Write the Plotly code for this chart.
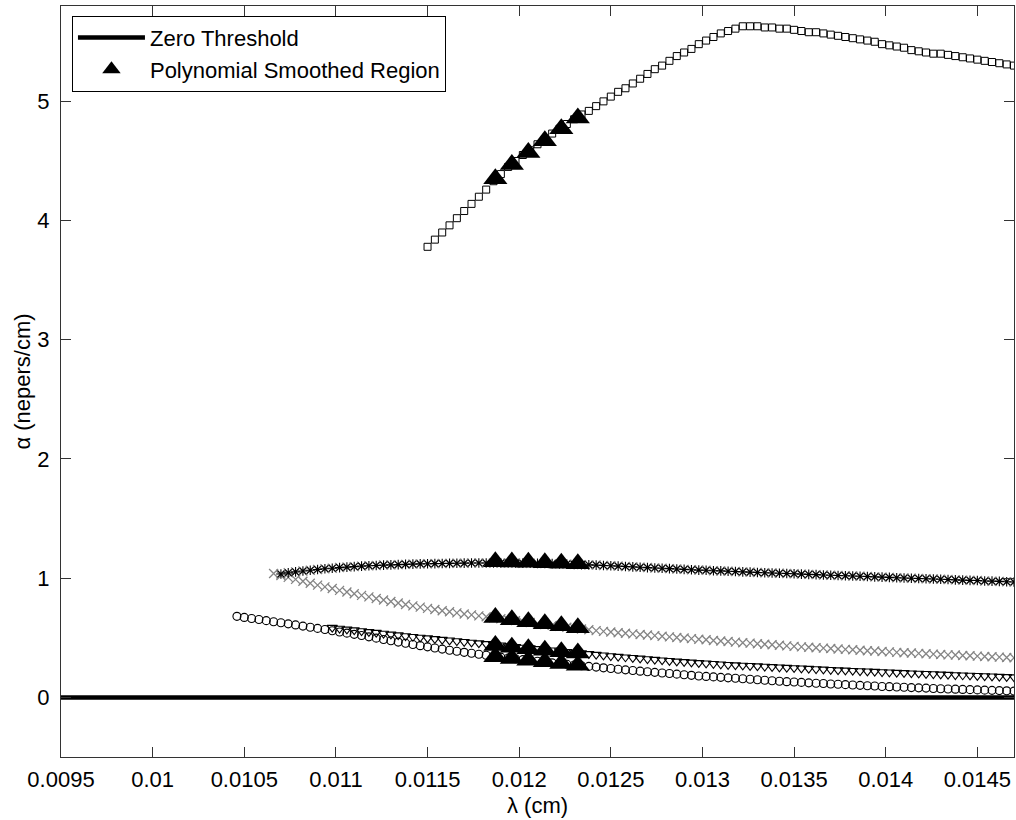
import plotly.graph_objects as go

# wavelength sample grid (cm)
lam = [0.01046, 0.01050, 0.01054, 0.01058, 0.01062, 0.01066, 0.01070, 0.01074, 0.01078, 0.01082,
       0.01086, 0.01090, 0.01094, 0.01098, 0.01102, 0.01106, 0.01110, 0.01114, 0.01118, 0.01122,
       0.01126, 0.01130, 0.01134, 0.01138, 0.01142, 0.01146, 0.01150, 0.01154, 0.01158, 0.01162,
       0.01166, 0.01170, 0.01174, 0.01178, 0.01182, 0.01186, 0.01190, 0.01194, 0.01198, 0.01202,
       0.01206, 0.01210, 0.01214, 0.01218, 0.01222, 0.01226, 0.01230, 0.01234, 0.01238, 0.01242,
       0.01246, 0.01250, 0.01254, 0.01258, 0.01262, 0.01266, 0.01270, 0.01274, 0.01278, 0.01282,
       0.01286, 0.01290, 0.01294, 0.01298, 0.01302, 0.01306, 0.01310, 0.01314, 0.01318, 0.01322,
       0.01326, 0.01330, 0.01334, 0.01338, 0.01342, 0.01346, 0.01350, 0.01354, 0.01358, 0.01362,
       0.01366, 0.01370, 0.01374, 0.01378, 0.01382, 0.01386, 0.01390, 0.01394, 0.01398, 0.01402,
       0.01406, 0.01410, 0.01414, 0.01418, 0.01422, 0.01426, 0.01430, 0.01434, 0.01438, 0.01442,
       0.01446, 0.01450, 0.01454, 0.01458, 0.01462, 0.01466, 0.01470]

# squares: starts at lam[26]
alpha_square = [3.78, 3.84, 3.90, 3.96, 4.02, 4.08, 4.14, 4.20, 4.26, 4.33,
                4.39, 4.45, 4.50, 4.55, 4.59, 4.64, 4.68, 4.73, 4.77, 4.81,
                4.85, 4.89, 4.92, 4.96, 5.00, 5.04, 5.08, 5.11, 5.15, 5.19,
                5.23, 5.27, 5.30, 5.34, 5.38, 5.41, 5.44, 5.48, 5.51, 5.54,
                5.57, 5.59, 5.61, 5.63, 5.63, 5.63, 5.62, 5.62, 5.61, 5.61,
                5.60, 5.59, 5.58, 5.58, 5.57, 5.56, 5.55, 5.54, 5.53, 5.52,
                5.51, 5.50, 5.48, 5.47, 5.46, 5.45, 5.43, 5.42, 5.41, 5.40,
                5.40, 5.39, 5.38, 5.37, 5.36, 5.35, 5.34, 5.33, 5.32, 5.31,
                5.30]

# upper branch (asterisks): starts at lam[6]
alpha_upper = [1.035, 1.045, 1.053, 1.060, 1.067, 1.073, 1.079, 1.084, 1.089, 1.093,
               1.097, 1.101, 1.104, 1.107, 1.110, 1.112, 1.114, 1.116, 1.118, 1.120,
               1.121, 1.122, 1.123, 1.124, 1.125, 1.126, 1.127, 1.127, 1.128, 1.128,
               1.128, 1.127, 1.127, 1.126, 1.125, 1.124, 1.123, 1.122, 1.120, 1.118,
               1.116, 1.114, 1.112, 1.110, 1.107, 1.104, 1.101, 1.098, 1.095, 1.092,
               1.089, 1.086, 1.083, 1.080, 1.077, 1.074, 1.071, 1.068, 1.066, 1.063,
               1.061, 1.058, 1.056, 1.053, 1.051, 1.048, 1.046, 1.044, 1.041, 1.039,
               1.037, 1.034, 1.032, 1.030, 1.027, 1.025, 1.023, 1.021, 1.018, 1.016,
               1.014, 1.011, 1.009, 1.007, 1.004, 1.002, 1.000, 0.998, 0.995, 0.993,
               0.991, 0.989, 0.986, 0.984, 0.982, 0.980, 0.977, 0.975, 0.973, 0.970,
               0.968]

# lower branch of gray crosses: starts at lam[5]
alpha_cross = [1.040, 1.023, 1.007, 0.990, 0.974, 0.958, 0.942, 0.927, 0.913, 0.898,
               0.884, 0.870, 0.856, 0.843, 0.830, 0.817, 0.804, 0.792, 0.780, 0.768,
               0.757, 0.747, 0.737, 0.727, 0.718, 0.709, 0.700, 0.692, 0.684, 0.676,
               0.668, 0.660, 0.652, 0.644, 0.636, 0.628, 0.620, 0.612, 0.604, 0.596,
               0.588, 0.581, 0.574, 0.567, 0.560, 0.554, 0.548, 0.543, 0.538, 0.533,
               0.528, 0.523, 0.518, 0.513, 0.508, 0.503, 0.498, 0.493, 0.488, 0.483,
               0.478, 0.473, 0.469, 0.464, 0.459, 0.455, 0.450, 0.446, 0.441, 0.437,
               0.432, 0.428, 0.424, 0.420, 0.417, 0.413, 0.410, 0.406, 0.403, 0.399,
               0.396, 0.392, 0.389, 0.385, 0.382, 0.378, 0.375, 0.372, 0.369, 0.366,
               0.363, 0.360, 0.357, 0.355, 0.352, 0.349, 0.346, 0.343, 0.341, 0.338,
               0.335, 0.332]

# downward triangles: starts at lam[13]
alpha_tridown = [0.585, 0.578, 0.571, 0.564, 0.557, 0.550, 0.543, 0.536, 0.529, 0.522,
                 0.515, 0.509, 0.503, 0.497, 0.491, 0.485, 0.479, 0.473, 0.467, 0.461,
                 0.455, 0.449, 0.443, 0.437, 0.431, 0.425, 0.419, 0.413, 0.407, 0.401,
                 0.395, 0.389, 0.383, 0.377, 0.371, 0.365, 0.359, 0.353, 0.347, 0.342,
                 0.337, 0.332, 0.327, 0.322, 0.317, 0.312, 0.307, 0.302, 0.298, 0.294,
                 0.290, 0.286, 0.282, 0.278, 0.274, 0.271, 0.268, 0.265, 0.262, 0.259,
                 0.256, 0.253, 0.250, 0.247, 0.244, 0.241, 0.238, 0.235, 0.232, 0.229,
                 0.227, 0.224, 0.221, 0.219, 0.216, 0.213, 0.211, 0.208, 0.206, 0.203,
                 0.201, 0.198, 0.196, 0.193, 0.191, 0.188, 0.186, 0.184, 0.181, 0.179,
                 0.177, 0.174, 0.172, 0.170]

# circles: starts at lam[0]
alpha_circle = [0.680, 0.671, 0.662, 0.653, 0.644, 0.635, 0.626, 0.617, 0.608, 0.598,
                0.589, 0.579, 0.569, 0.559, 0.549, 0.539, 0.529, 0.519, 0.508, 0.497,
                0.486, 0.475, 0.464, 0.454, 0.444, 0.434, 0.424, 0.414, 0.405, 0.396,
                0.387, 0.378, 0.370, 0.362, 0.354, 0.346, 0.338, 0.331, 0.324, 0.317,
                0.310, 0.303, 0.296, 0.290, 0.284, 0.278, 0.272, 0.266, 0.260, 0.254,
                0.248, 0.242, 0.236, 0.231, 0.226, 0.220, 0.215, 0.210, 0.205, 0.200,
                0.195, 0.190, 0.185, 0.180, 0.176, 0.172, 0.168, 0.164, 0.160, 0.156,
                0.152, 0.148, 0.144, 0.140, 0.136, 0.132, 0.129, 0.126, 0.122, 0.119,
                0.116, 0.113, 0.110, 0.107, 0.104, 0.101, 0.098, 0.095, 0.092, 0.090,
                0.087, 0.085, 0.082, 0.080, 0.078, 0.075, 0.073, 0.071, 0.069, 0.067,
                0.065, 0.063, 0.061, 0.059, 0.057, 0.055, 0.053]

# polynomial smoothed region
smooth_lam = [0.01187, 0.01196, 0.01205, 0.01214, 0.01223, 0.01232]
smooth_square = [4.35, 4.47, 4.57, 4.67, 4.77, 4.86]
smooth_upper = [1.138, 1.136, 1.133, 1.130, 1.126, 1.122]
smooth_cross = [0.670, 0.652, 0.635, 0.617, 0.600, 0.584]
smooth_tridown = [0.435, 0.421, 0.408, 0.395, 0.383, 0.372]
smooth_circle = [0.340, 0.326, 0.312, 0.298, 0.284, 0.270]

zero_lam = [0.0095, 0.0147]
zero_alpha = [0, 0]

x_ticks = [0.0095, 0.01, 0.0105, 0.011, 0.0115, 0.012, 0.0125, 0.013, 0.0135, 0.014, 0.0145]
x_ticktext = ["0.0095", "0.01", "0.0105", "0.011", "0.0115", "0.012", "0.0125",
              "0.013", "0.0135", "0.014", "0.0145"]
y_ticks = [0, 1, 2, 3, 4, 5]

FONT = "Liberation Sans, Arial, sans-serif"
GRAY = "#858585"

fig = go.Figure()

fig.add_trace(go.Scatter(x=zero_lam, y=zero_alpha, mode="lines", name="Zero Threshold",
                         line=dict(color="black", width=4.5)))

fig.add_trace(go.Scatter(x=lam[5:], y=alpha_cross, mode="markers", showlegend=False,
                         marker=dict(symbol="x-thin-open", size=9, color=GRAY,
                                     line=dict(color=GRAY, width=1.3))))
fig.add_trace(go.Scatter(x=lam[6:], y=alpha_upper, mode="markers", showlegend=False,
                         marker=dict(symbol="x-thin-open", size=9, color=GRAY,
                                     line=dict(color=GRAY, width=1.3))))
fig.add_trace(go.Scatter(x=lam[6:], y=alpha_upper, mode="markers", showlegend=False,
                         marker=dict(symbol="asterisk-open", size=8, color="black",
                                     line=dict(color="black", width=1.1))))
fig.add_trace(go.Scatter(x=lam[13:], y=alpha_tridown, mode="markers", showlegend=False,
                         marker=dict(symbol="triangle-down-open", size=9, color="black",
                                     line=dict(color="black", width=1.1))))
fig.add_trace(go.Scatter(x=lam[0:], y=alpha_circle, mode="markers", showlegend=False,
                         marker=dict(symbol="circle-open", size=8, color="black",
                                     line=dict(color="black", width=1.1))))
fig.add_trace(go.Scatter(x=lam[26:], y=alpha_square, mode="markers", showlegend=False,
                         marker=dict(symbol="square-open", size=7, color="black",
                                     line=dict(color="black", width=1))))

tri_x = smooth_lam * 5
tri_y = smooth_square + smooth_upper + smooth_cross + smooth_tridown + smooth_circle
fig.add_trace(go.Scatter(x=tri_x, y=tri_y, mode="markers", name="Polynomial Smoothed Region",
                         marker=dict(symbol="triangle-up", size=21, color="black",
                                     line=dict(width=0))))

axis_common = dict(showgrid=False, zeroline=False, showline=True, linecolor="#333333",
                   linewidth=1, mirror="ticks", ticks="inside", ticklen=10, tickwidth=1,
                   tickcolor="#333333", tickfont=dict(family=FONT, size=22, color="black"))

fig.update_layout(
    width=1016, height=820,
    margin=dict(l=61, r=2, t=6, b=63, autoexpand=False),
    paper_bgcolor="white", plot_bgcolor="white",
    font=dict(family=FONT, size=22, color="black"),
    xaxis=dict(range=[0.0095, 0.0147], tickvals=x_ticks, ticktext=x_ticktext,
               title=dict(text="λ (cm)", font=dict(family=FONT, size=22), standoff=6),
               ticklabelstandoff=3, **axis_common),
    yaxis=dict(range=[-0.5, 5.8], tickvals=y_ticks,
               title=dict(text="α (nepers/cm)", font=dict(family=FONT, size=22), standoff=0),
               ticklabelstandoff=6, **axis_common),
    legend=dict(x=0.0115, y=0.987, xanchor="left", yanchor="top",
                bgcolor="white", bordercolor="black", borderwidth=1,
                font=dict(family=FONT, size=22), itemwidth=67, tracegroupgap=0),
    showlegend=True,
)

fig.write_html("out.html")
